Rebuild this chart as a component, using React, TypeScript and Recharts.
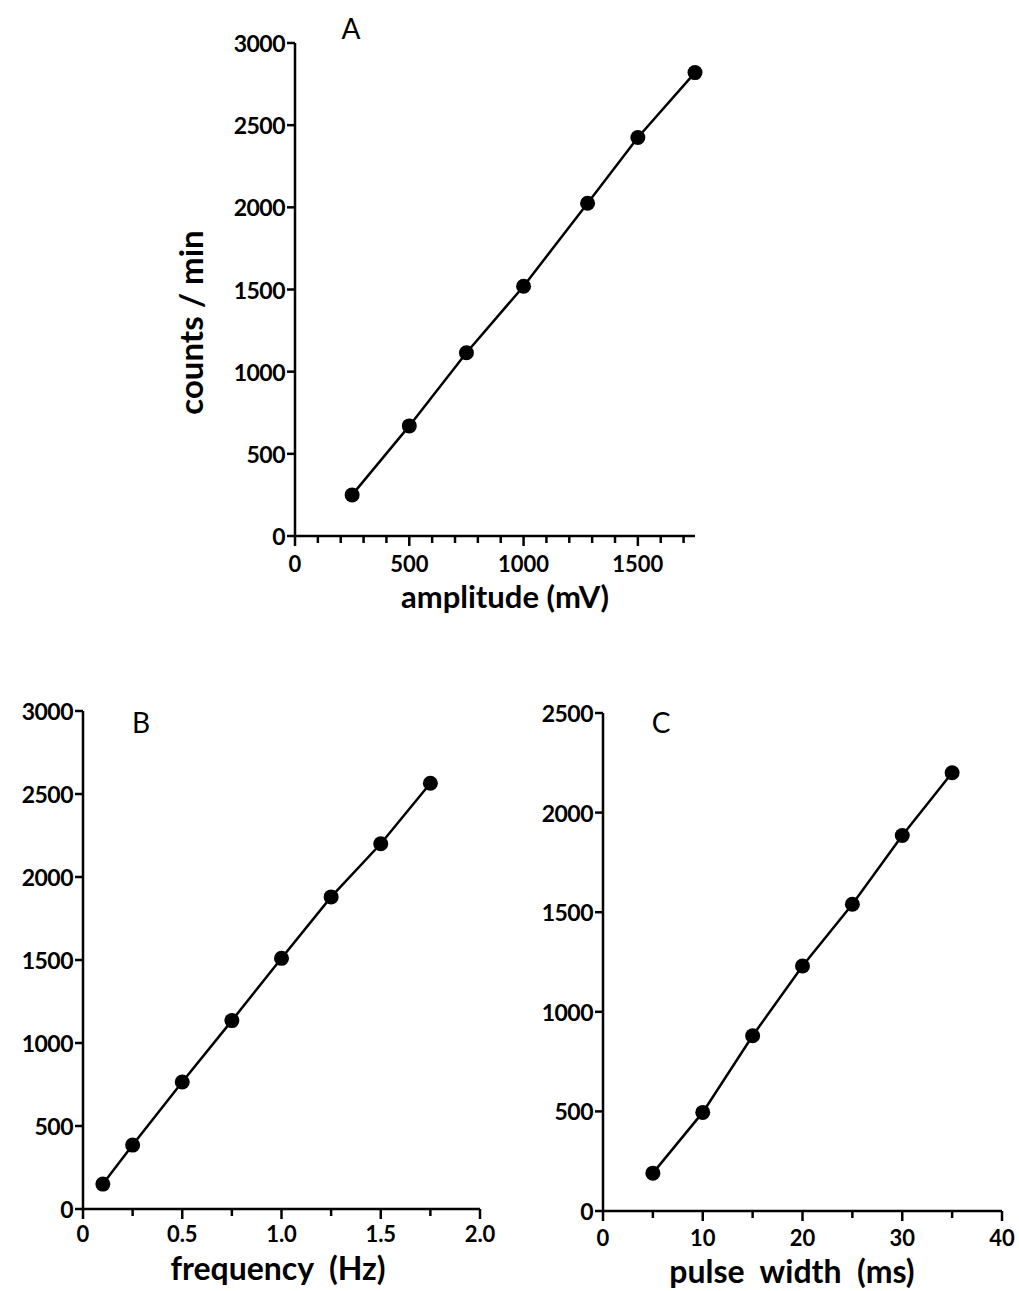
import React from 'react';
import { ScatterChart, Scatter, XAxis, YAxis } from 'recharts';

const FONT = 'Lato, "DejaVu Sans", sans-serif';

// Panel A: counts/min vs amplitude
const ampX = [250, 500, 750, 1000, 1280, 1500, 1750];
const ampY = [250, 670, 1115, 1520, 2025, 2425, 2820];
const ampXTicks = [0, 100, 200, 300, 400, 500, 600, 700, 800, 900, 1000, 1100, 1200, 1300, 1400, 1500, 1600, 1700];
const ampXLabels = [0, 500, 1000, 1500];
const ampYTicks = [0, 500, 1000, 1500, 2000, 2500, 3000];

// Panel B: counts/min vs frequency
const freqX = [0.1, 0.25, 0.5, 0.75, 1.0, 1.25, 1.5, 1.75];
const freqY = [150, 385, 765, 1135, 1510, 1880, 2200, 2565];
const freqXTicks = [0, 0.25, 0.5, 0.75, 1.0, 1.25, 1.5, 1.75, 2.0];
const freqXLabels = [0, 0.5, 1.0, 1.5, 2.0];
const freqYTicks = [0, 500, 1000, 1500, 2000, 2500, 3000];

// Panel C: counts/min vs pulse width
const pulseX = [5, 10, 15, 20, 25, 30, 35];
const pulseY = [190, 495, 880, 1230, 1540, 1885, 2200];
const pulseXTicks = [0, 5, 10, 15, 20, 25, 30, 35, 40];
const pulseXLabels = [0, 10, 20, 30, 40];
const pulseYTicks = [0, 500, 1000, 1500, 2000, 2500];

const Y_AXIS_W = 60;
const X_AXIS_H = 50;

const Dot = (p: any) => <circle cx={p.cx} cy={p.cy} r={7.5} fill="#000" />;

function XTick(props: any) {
  const { x, y, payload, labels, fmt, labelDy } = props;
  const v = payload.value;
  const isLabel = labels.includes(v);
  return (
    <g>
      <line x1={x} x2={x} y1={y} y2={y + (isLabel ? 10 : 7)} stroke="#000" strokeWidth={2.5} />
      {isLabel && (
        <text
          x={x}
          y={y + labelDy}
          textAnchor="middle"
          dominantBaseline="central"
          fontFamily={FONT}
          fontWeight={700}
          fontSize={22}
          fill="#000"
        >
          {fmt(v)}
        </text>
      )}
    </g>
  );
}

function YTick(props: any) {
  const { x, y, payload } = props;
  return (
    <g>
      <line x1={x - 8} x2={x} y1={y} y2={y} stroke="#000" strokeWidth={2.5} />
      <text
        x={x - 10}
        y={y}
        textAnchor="end"
        dominantBaseline="central"
        fontFamily={FONT}
        fontWeight={700}
        fontSize={23}
        letterSpacing={-0.5}
        fill="#000"
      >
        {payload.value}
      </text>
    </g>
  );
}

interface PanelProps {
  box: { left: number; top: number; width: number; height: number };
  plot: { x0: number; x1: number; top: number; bottom: number };
  xs: number[];
  ys: number[];
  xDomain: [number, number];
  yDomain: [number, number];
  xTicks: number[];
  xLabels: number[];
  yTicks: number[];
  fmt: (v: number) => string;
  labelDy: number;
}

function Panel({ box, plot, xs, ys, xDomain, yDomain, xTicks, xLabels, yTicks, fmt, labelDy }: PanelProps) {
  const data = xs.map((x, i) => ({ x, y: ys[i] }));
  const margin = {
    top: plot.top - box.top,
    left: plot.x0 - box.left - Y_AXIS_W,
    right: box.left + box.width - plot.x1,
    bottom: box.top + box.height - plot.bottom - X_AXIS_H,
  };
  return (
    <div style={{ position: 'absolute', left: box.left, top: box.top }}>
      <ScatterChart width={box.width} height={box.height} margin={margin}>
        <XAxis
          dataKey="x"
          type="number"
          domain={xDomain}
          ticks={xTicks}
          interval={0}
          height={X_AXIS_H}
          tickSize={0}
          tickMargin={0}
          tickLine={false}
          axisLine={{ stroke: '#000', strokeWidth: 2.5 }}
          tick={(p: any) => <XTick {...p} labels={xLabels} fmt={fmt} labelDy={labelDy} />}
        />
        <YAxis
          dataKey="y"
          type="number"
          domain={yDomain}
          ticks={yTicks}
          interval={0}
          width={Y_AXIS_W}
          tickSize={0}
          tickMargin={0}
          tickLine={false}
          axisLine={{ stroke: '#000', strokeWidth: 2.5 }}
          tick={(p: any) => <YTick {...p} />}
        />
        <Scatter
          data={data}
          line={{ stroke: '#000', strokeWidth: 2.5 }}
          shape={Dot}
          isAnimationActive={false}
        />
      </ScatterChart>
    </div>
  );
}

function Text({ x, y, size, weight, children, rotate }: any) {
  return (
    <div
      style={{
        position: 'absolute',
        left: x - 200,
        top: y - size / 2,
        width: 400,
        lineHeight: `${size}px`,
        textAlign: 'center',
        fontFamily: FONT,
        fontSize: size,
        fontWeight: weight,
        color: '#000',
        whiteSpace: 'nowrap',
        transform: rotate ? `rotate(${rotate}deg)` : undefined,
      }}
    >
      {children}
    </div>
  );
}

export default function App() {
  return (
    <div style={{ position: 'absolute', left: 0, top: 0, width: 1019, height: 1291, background: '#fff' }}>
      <Panel
        box={{ left: 150, top: 0, width: 600, height: 620 }}
        plot={{ x0: 295, x1: 695, top: 43, bottom: 536 }}
        xs={ampX}
        ys={ampY}
        xDomain={[0, 1750]}
        yDomain={[0, 3000]}
        xTicks={ampXTicks}
        xLabels={ampXLabels}
        yTicks={ampYTicks}
        fmt={(v) => String(v)}
        labelDy={27}
      />
      <Panel
        box={{ left: 0, top: 640, width: 520, height: 651 }}
        plot={{ x0: 83, x1: 480, top: 711, bottom: 1209 }}
        xs={freqX}
        ys={freqY}
        xDomain={[0, 2]}
        yDomain={[0, 3000]}
        xTicks={freqXTicks}
        xLabels={freqXLabels}
        yTicks={freqYTicks}
        fmt={(v) => (v === 0 ? '0' : v.toFixed(1))}
        labelDy={24}
      />
      <Panel
        box={{ left: 520, top: 640, width: 499, height: 651 }}
        plot={{ x0: 603, x1: 1002, top: 713, bottom: 1211 }}
        xs={pulseX}
        ys={pulseY}
        xDomain={[0, 40]}
        yDomain={[0, 2500]}
        xTicks={pulseXTicks}
        xLabels={pulseXLabels}
        yTicks={pulseYTicks}
        fmt={(v) => String(v)}
        labelDy={26}
      />

      <Text x={351} y={28} size={28} weight={400}>A</Text>
      <Text x={141} y={722} size={28} weight={400}>B</Text>
      <Text x={661} y={722} size={28} weight={400}>C</Text>

      <Text x={190} y={322} size={33} weight={700} rotate={-90}>counts / min</Text>
      <Text x={505} y={596} size={31} weight={700}>amplitude (mV)</Text>
      <Text x={278} y={1268} size={32} weight={700}>frequency&nbsp;&nbsp;(Hz)</Text>
      <Text x={792} y={1271} size={32} weight={700}>pulse&nbsp;&nbsp;width&nbsp;&nbsp;(ms)</Text>
    </div>
  );
}
